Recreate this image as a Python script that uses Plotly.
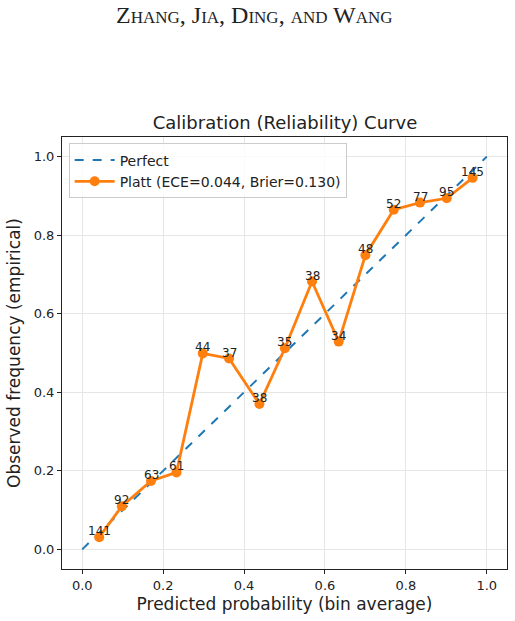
import plotly.graph_objects as go

# Data
pred_prob = [0.042, 0.098, 0.170, 0.233, 0.298, 0.363, 0.438, 0.501, 0.568, 0.634, 0.700, 0.770, 0.835, 0.901, 0.965]
obs_freq = [0.031, 0.110, 0.174, 0.196, 0.499, 0.486, 0.370, 0.512, 0.682, 0.529, 0.749, 0.865, 0.883, 0.894, 0.946]
bin_counts = [141, 92, 63, 61, 44, 37, 38, 35, 38, 34, 48, 52, 77, 95, 145]
perfect_x = [0.0, 1.0]
perfect_y = [0.0, 1.0]
x_ticks = [0.0, 0.2, 0.4, 0.6, 0.8, 1.0]
y_ticks = [0.0, 0.2, 0.4, 0.6, 0.8, 1.0]

BLUE = "#1f77b4"
ORANGE = "#ff7f0e"
FONT = "DejaVu Sans"

fig = go.Figure()
fig.add_trace(go.Scatter(
    x=perfect_x, y=perfect_y, mode="lines", name="Perfect",
    line=dict(color=BLUE, width=2, dash="dash"),
))
fig.add_trace(go.Scatter(
    x=pred_prob, y=obs_freq, mode="lines+markers",
    name="Platt (ECE=0.044, Brier=0.130)",
    line=dict(color=ORANGE, width=2.8),
    marker=dict(color=ORANGE, size=10),
))

for xv, yv, c in zip(pred_prob, obs_freq, bin_counts):
    fig.add_annotation(x=xv, y=yv, text=str(c), showarrow=False,
                       xanchor="center", yanchor="bottom", yshift=-3,
                       font=dict(family=FONT, size=12, color="#222"))

SMALL = 17
def sc(word):
    return word[0] + f'<span style="font-size:{SMALL}px">' + word[1:] + '</span>'

header = ", ".join(sc(w) for w in ["ZHANG", "JIA", "DING"]) + f', <span style="font-size:{SMALL}px">AND</span> ' + sc("WANG")
fig.add_annotation(xref="paper", yref="paper", x=(254 - 62) / 445, y=1.0, xanchor="center", yanchor="middle",
                   text=header, showarrow=False, yshift=137 - 15,
                   font=dict(family="Liberation Serif", size=24, color="#222"))

fig.update_layout(
    width=515, height=621,
    margin=dict(l=62, r=8, t=137, b=52),
    paper_bgcolor="white", plot_bgcolor="white",
    font=dict(family=FONT, color="#222"),
    title=dict(text="Calibration (Reliability) Curve", x=285 / 515, xanchor="center",
               y=1 - 123 / 621, yanchor="middle",
               font=dict(family=FONT, size=18, color="#222")),
    showlegend=True,
    legend=dict(x=0.015, y=0.985, xanchor="left", yanchor="top",
                bgcolor="rgba(255,255,255,0.8)", bordercolor="#cccccc", borderwidth=1,
                font=dict(family=FONT, size=14, color="#222"),
                tracegroupgap=0, itemwidth=40),
)
fig.update_xaxes(range=[-0.05, 1.05], tickvals=x_ticks, ticktext=[f"{v:.1f}" for v in x_ticks],
                 showgrid=True, gridcolor="#e6e6e6", gridwidth=1, zeroline=False,
                 showline=True, linecolor="#222", linewidth=1, mirror=True,
                 ticks="outside", ticklen=4, tickcolor="#222",
                 tickfont=dict(family=FONT, size=13, color="#222"),
                 title=dict(text="Predicted probability (bin average)", standoff=6,
                            font=dict(family=FONT, size=17, color="#222")))
fig.update_yaxes(range=[-0.05, 1.05], tickvals=y_ticks, ticktext=[f"{v:.1f}" for v in y_ticks],
                 showgrid=True, gridcolor="#e6e6e6", gridwidth=1, zeroline=False,
                 showline=True, linecolor="#222", linewidth=1, mirror=True,
                 ticks="outside", ticklen=4, tickcolor="#222",
                 tickfont=dict(family=FONT, size=13, color="#222"),
                 title=dict(text="Observed frequency (empirical)", standoff=8,
                            font=dict(family=FONT, size=17, color="#222")))

fig.write_html("out.html")
